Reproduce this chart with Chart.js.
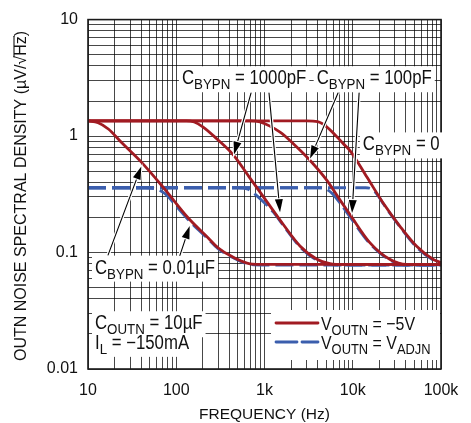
<!DOCTYPE html>
<html>
<head>
<meta charset="utf-8">
<script src="https://cdn.jsdelivr.net/npm/chart.js@4.4.1/dist/chart.umd.min.js"></script>
<style>
  html, body { margin: 0; padding: 0; background: #fff; }
  canvas { display: block; }
</style>
</head>
<body>
<canvas id="noise" width="471" height="423"></canvas>
<script>
// ── data ───────────────────────────────────────────────────────────
const xDecades    = [10, 100, 1000, 10000, 100000];
const xTickLabels = ["10", "100", "1k", "10k", "100k"];
const yDecades    = [0.01, 0.1, 1, 10];
const yTickLabels = ["0.01", "0.1", "1", "10"];

// V_OUTN = -5V (red), one curve per C_BYPN
const fRed001u = [10, 13, 17, 24, 40, 74, 136, 229, 297, 443, 685, 1000, 100000];
const vRed001u = [1.35, 1.3, 1.15, 0.88, 0.6, 0.35, 0.199, 0.134, 0.11, 0.091, 0.08, 0.079, 0.079];
const fRed1000p = [10, 130, 160, 200, 287, 443, 685, 1058, 1633, 2522, 3890, 5520, 8000, 100000];
const vRed1000p = [1.35, 1.35, 1.32, 1.2, 0.95, 0.69, 0.435, 0.275, 0.174, 0.114, 0.088, 0.0805, 0.079, 0.079];
const fRed100p = [10, 700, 889, 1500, 2120, 3270, 5070, 7180, 9300, 15700, 26500, 41000, 100000];
const vRed100p = [1.35, 1.35, 1.32, 1.08, 0.86, 0.62, 0.418, 0.282, 0.212, 0.121, 0.087, 0.079, 0.079];
const fRed0 = [10, 3000, 4000, 5070, 7820, 9300, 14400, 22200, 34300, 53000, 81900, 100000];
const vRed0 = [1.35, 1.35, 1.33, 1.2, 0.86, 0.75, 0.447, 0.265, 0.168, 0.113, 0.087, 0.082];

// V_OUTN = V_ADJN (blue dashed)
const fBlue001u = [10, 45, 57, 74, 105, 136, 229, 297, 443, 685, 1000, 100000];
const vBlue001u = [0.36, 0.36, 0.352, 0.322, 0.24, 0.192, 0.131, 0.108, 0.09, 0.079, 0.078, 0.078];
const fBlue1000p = [10, 500, 650, 890, 1260, 1633, 2522, 3890, 5520, 8000, 100000];
const vBlue1000p = [0.36, 0.36, 0.35, 0.29, 0.222, 0.171, 0.112, 0.086, 0.079, 0.078, 0.078];
const fBlue100p = [10, 4000, 5000, 6000, 7180, 8800, 15700, 26500, 41000, 100000];
const vBlue100p = [0.36, 0.36, 0.35, 0.315, 0.265, 0.215, 0.119, 0.086, 0.078, 0.078];
const fBlue0 = [10, 14000, 17000, 20400, 22200, 34300, 53000, 81900, 100000];
const vBlue0 = [0.36, 0.36, 0.345, 0.29, 0.262, 0.166, 0.111, 0.086, 0.081];

const RED  = "#a11b22";
const BLUE = "#3b5ead";
const FONT = "'Liberation Sans', Arial, sans-serif";

const pts = (fs, vs) => fs.map((f, i) => ({ x: f, y: vs[i] }));

function logTicks(decades) {
  const out = [];
  decades.forEach((d, i) => {
    if (i === decades.length - 1) { out.push(d); return; }
    for (let k = 1; k <= 9; k++) out.push(+(d * k).toPrecision(6));
  });
  return out;
}
function decadeLabel(decades, labels, value) {
  const i = decades.findIndex(d => Math.abs(d - value) / d < 1e-6);
  return i >= 0 ? labels[i] : "";
}

const redSet = (data) => ({
  data, borderColor: RED, borderWidth: 2.8, pointRadius: 0,
  cubicInterpolationMode: "monotone", order: 0,
});
const blueSet = (data) => ({
  data, borderColor: BLUE, borderWidth: 2.8, pointRadius: 0, borderDash: [18, 6],
  cubicInterpolationMode: "monotone", order: 1,
});

// ── annotations (positions in data units) ──────────────────────────
const C_BYP = [{ t: "C" }, { t: "BYPN", sub: true }];
const labels = [
  { parts: [...C_BYP, { t: " = 1000pF" }], f: 116,   v: 3.2 },
  { parts: [...C_BYP, { t: " = 100pF" }],  f: 3900,  v: 3.2 },
  { parts: [...C_BYP, { t: " = 0" }],      f: 13000, v: 0.865 },
  { parts: [...C_BYP, { t: " = 0.01µF" }], f: 12,    v: 0.0757 },
  { parts: [{ t: "C" }, { t: "OUTN", sub: true }, { t: " = 10µF" }], f: 12, v: 0.0252 },
  { parts: [{ t: "I" }, { t: "L", sub: true }, { t: " = −150mA" }],  f: 12, v: 0.0171 },
];
const arrows = [
  { from: [16.9, 0.0955], to: [40.2, 0.548] },
  { from: [110, 0.0945],  to: [142, 0.169] },
  { from: [703, 2.34],    to: [451, 0.693] },
  { from: [1125, 2.34],   to: [1500, 0.222] },
  { from: [6810, 2.34],   to: [3280, 0.641] },
  { from: [11800, 2.34],  to: [9820, 0.218] },
];

// condensed look: draw wider font squeezed horizontally
const SQ = 0.86;
const MAIN = "19.5px " + FONT, SUB = "15.5px " + FONT;
function richWidth(ctx, parts, main, sub) {
  let w = 0;
  parts.forEach(p => { ctx.font = p.sub ? sub : main; w += ctx.measureText(p.t).width; });
  return w * SQ;
}
function drawRich(ctx, parts, x, yMid, main, sub) {
  ctx.save();
  ctx.translate(x, yMid);
  ctx.scale(SQ, 1);
  let cx = 0;
  ctx.textBaseline = "alphabetic";
  ctx.textAlign = "left";
  parts.forEach(p => {
    ctx.font = p.sub ? sub : main;
    ctx.fillText(p.t, cx, 7 + (p.sub ? 5 : 0));
    cx += ctx.measureText(p.t).width;
  });
  ctx.restore();
}
function arrow(ctx, x1, y1, x2, y2) {
  const a = Math.atan2(y2 - y1, x2 - x1), L = 13, W = 4;
  const bx = x2 - L * Math.cos(a), by = y2 - L * Math.sin(a);
  ctx.lineCap = "round";
  ctx.strokeStyle = "#fff"; ctx.lineWidth = 3.5;
  ctx.beginPath(); ctx.moveTo(x1, y1); ctx.lineTo(bx, by); ctx.stroke();
  ctx.strokeStyle = "#000"; ctx.lineWidth = 1.1;
  ctx.beginPath(); ctx.moveTo(x1, y1); ctx.lineTo(bx, by); ctx.stroke();
  ctx.beginPath();
  ctx.moveTo(x2, y2);
  ctx.lineTo(bx + W * Math.sin(a), by - W * Math.cos(a));
  ctx.lineTo(bx - W * Math.sin(a), by + W * Math.cos(a));
  ctx.closePath();
  ctx.strokeStyle = "#fff"; ctx.lineWidth = 2; ctx.stroke();
  ctx.fillStyle = "#000"; ctx.fill();
}

const decor = {
  id: "decor",
  beforeDraw(chart) {
    const ctx = chart.ctx;
    ctx.save(); ctx.fillStyle = "#fff"; ctx.fillRect(0, 0, chart.width, chart.height); ctx.restore();
  },
  afterDatasetsDraw(chart) {
    const { ctx, chartArea: ca, scales: { x, y } } = chart;
    ctx.save();

    // plot frame
    ctx.strokeStyle = "#1a1a1a"; ctx.lineWidth = 1.6;
    ctx.strokeRect(ca.left, ca.top, ca.right - ca.left, ca.bottom - ca.top);

    // label boxes
    labels.forEach(l => {
      const px = x.getPixelForValue(l.f), py = y.getPixelForValue(l.v);
      const w = richWidth(ctx, l.parts, MAIN, SUB);
      ctx.fillStyle = "#fff";
      ctx.fillRect(px - 3, py - 11, w + 6, 26);
    });
    // legend box
    const lx = ca.right - 170, ly = ca.bottom - 59;
    ctx.fillStyle = "#fff";
    ctx.fillRect(lx, ly, 169, 50);

    arrows.forEach(a => arrow(ctx,
      x.getPixelForValue(a.from[0]), y.getPixelForValue(a.from[1]),
      x.getPixelForValue(a.to[0]),   y.getPixelForValue(a.to[1])));

    ctx.fillStyle = "#111";
    labels.forEach(l => drawRich(ctx, l.parts, x.getPixelForValue(l.f), y.getPixelForValue(l.v), MAIN, SUB));

    // legend
    const LM = "18.5px " + FONT, LS = "15px " + FONT;
    ctx.lineWidth = 2.8;
    ctx.strokeStyle = RED;
    ctx.beginPath(); ctx.moveTo(lx + 5, ly + 13); ctx.lineTo(lx + 47, ly + 13); ctx.stroke();
    ctx.strokeStyle = BLUE; ctx.setLineDash([21, 5]);
    ctx.beginPath(); ctx.moveTo(lx + 5, ly + 32); ctx.lineTo(lx + 47, ly + 32); ctx.stroke();
    ctx.setLineDash([]);
    ctx.fillStyle = "#111";
    drawRich(ctx, [{ t: "V" }, { t: "OUTN", sub: true }, { t: " = −5V" }], lx + 50, ly + 13, LM, LS);
    drawRich(ctx, [{ t: "V" }, { t: "OUTN", sub: true }, { t: " = V" }, { t: "ADJN", sub: true }], lx + 50, ly + 32, LM, LS);

    // axis titles
    ctx.fillStyle = "#111";
    ctx.font = "15.5px " + FONT;
    ctx.textAlign = "center"; ctx.textBaseline = "middle";
    ctx.fillText("FREQUENCY (Hz)", (ca.left + ca.right) / 2, 415);

    ctx.translate(22, 196);
    ctx.rotate(-Math.PI / 2);
    ctx.font = "16px " + FONT;
    const head = "OUTN NOISE SPECTRAL DENSITY (µV/√", tail = "Hz)";
    const wHead = ctx.measureText(head).width, wAll = ctx.measureText(head + tail).width;
    const wHz = ctx.measureText("Hz").width;
    ctx.textAlign = "left";
    ctx.fillText(head + tail, -wAll / 2, 0);
    ctx.strokeStyle = "#111"; ctx.lineWidth = 1.1;
    ctx.beginPath();
    ctx.moveTo(-wAll / 2 + wHead - 1, -8);
    ctx.lineTo(-wAll / 2 + wHead + wHz, -8);
    ctx.stroke();

    ctx.restore();
  },
};

const gridOpts = { color: "rgba(0,0,0,0.72)", lineWidth: 1, drawTicks: false };

new Chart(document.getElementById("noise"), {
  type: "line",
  data: {
    datasets: [
      redSet(pts(fRed001u, vRed001u)),
      redSet(pts(fRed1000p, vRed1000p)),
      redSet(pts(fRed100p, vRed100p)),
      redSet(pts(fRed0, vRed0)),
      blueSet(pts(fBlue001u, vBlue001u)),
      blueSet(pts(fBlue1000p, vBlue1000p)),
      blueSet(pts(fBlue100p, vBlue100p)),
      blueSet(pts(fBlue0, vBlue0)),
    ],
  },
  options: {
    responsive: false,
    animation: false,
    layout: { padding: { top: 17, right: 30, left: 0, bottom: 0 } },
    plugins: { legend: { display: false }, tooltip: { enabled: false } },
    scales: {
      x: {
        type: "logarithmic",
        min: 10, max: 100000,
        grid: gridOpts,
        border: { display: false },
        afterBuildTicks: s => { s.ticks = logTicks(xDecades).map(v => ({ value: v })); },
        afterFit: s => { s.height = 54; },
        ticks: {
          autoSkip: false, maxRotation: 0, padding: 12,
          color: "#111", font: { family: FONT, size: 16 },
          callback: v => decadeLabel(xDecades, xTickLabels, v),
        },
      },
      y: {
        type: "logarithmic",
        min: 0.01, max: 10,
        grid: gridOpts,
        border: { display: false },
        afterBuildTicks: s => { s.ticks = logTicks(yDecades).map(v => ({ value: v })); },
        afterFit: s => { s.width = 88; },
        ticks: {
          autoSkip: false, padding: 10,
          color: "#111", font: { family: FONT, size: 16 },
          callback: v => decadeLabel(yDecades, yTickLabels, v),
        },
      },
    },
  },
  plugins: [decor],
});
</script>
</body>
</html>
